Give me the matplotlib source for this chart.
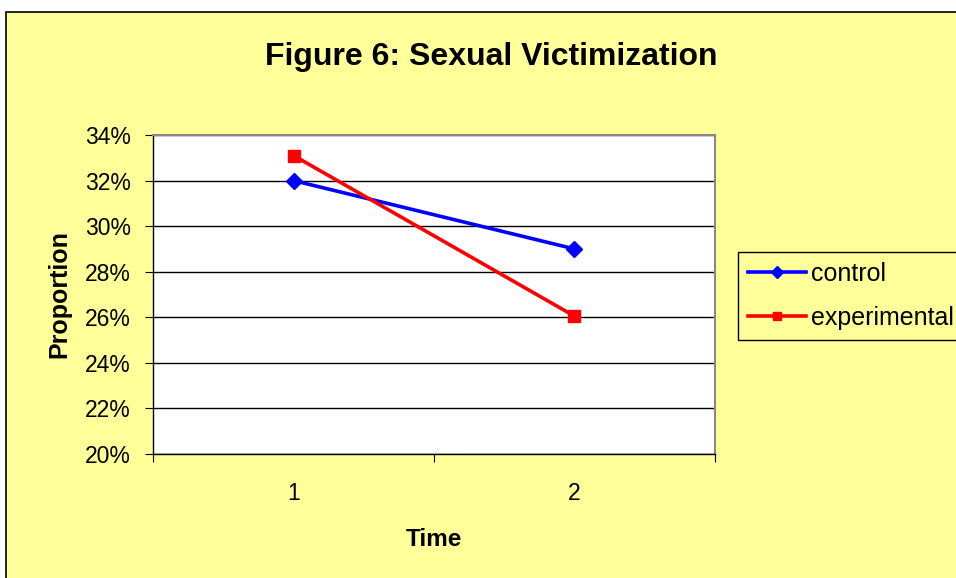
import matplotlib.pyplot as plt
from matplotlib.patches import Rectangle
from matplotlib.ticker import FuncFormatter

plt.rcParams['font.family'] = ['Liberation Sans', 'DejaVu Sans']

# data
times = [1, 2]
time_labels = ['1', '2']
control = [0.32, 0.29]
experimental = [0.331, 0.2605]

W, H = 956, 578
fig = plt.figure(figsize=(W / 100, H / 100), dpi=100)
fig.patch.set_facecolor('white')

# chart area background with black border (top/left visible)
bg = Rectangle((6 / W, -0.02), 1.2, 1 - 12 / H + 0.02, transform=fig.transFigure,
               facecolor='#FFFF99', edgecolor='black', linewidth=1.2, zorder=-10)
fig.patches.append(bg)

ax = fig.add_axes([153 / W, 1 - 454 / H, (715 - 153) / W, (454 - 135) / H])
ax.set_facecolor('white')

ax.plot(times, control, color='#0000FF', lw=2.6, marker='D', ms=8, label='control')
ax.plot(times, experimental, color='#FF0000', lw=2.6, marker='s', ms=8, label='experimental')

ax.set_xlim(0.5, 2.5)
ax.set_ylim(0.20, 0.34)
ax.set_yticks([0.20, 0.22, 0.24, 0.26, 0.28, 0.30, 0.32, 0.34])
ax.yaxis.set_major_formatter(FuncFormatter(lambda v, p: f'{v * 100:.0f}%'))
ax.set_xticks(times)
ax.set_xticklabels(time_labels)
ax.set_xticks([0.5, 1.5, 2.5], minor=True)
ax.tick_params(axis='x', which='major', length=0, pad=20, labelsize=16.5)
ax.tick_params(axis='x', which='minor', length=6, width=0.8, direction='out')
ax.tick_params(axis='y', length=6, width=0.8, direction='out', labelsize=16.5, pad=10)

ax.grid(axis='y', color='black', lw=1)
ax.set_axisbelow(True)
for side in ['top', 'right']:
    ax.spines[side].set_color('#888888')
    ax.spines[side].set_linewidth(1.5)
for side in ['left', 'bottom']:
    ax.spines[side].set_color('black')
    ax.spines[side].set_linewidth(1)

ax.set_xlabel('Time', fontsize=17.5, fontweight='bold', labelpad=17)
ax.set_ylabel('Proportion', fontsize=18, fontweight='bold', labelpad=10)

fig.text(491 / W, 1 - 65 / H, 'Figure 6: Sexual Victimization', fontsize=23,
         fontweight='bold', ha='center', va='baseline')

leg = ax.legend(loc='upper left', bbox_to_anchor=(738 / W, 1 - 252 / H),
                bbox_transform=fig.transFigure, frameon=True, fancybox=False,
                fontsize=18, handlelength=2.3, handletextpad=0.2, borderpad=0.4,
                labelspacing=0.78, borderaxespad=0, markerscale=0.8)
leg.get_frame().set_facecolor('#FFFF99')
leg.get_frame().set_edgecolor('black')
leg.get_frame().set_linewidth(1)
leg.get_frame().set_alpha(1)

fig.savefig('out.png', dpi=100, facecolor=fig.get_facecolor())
